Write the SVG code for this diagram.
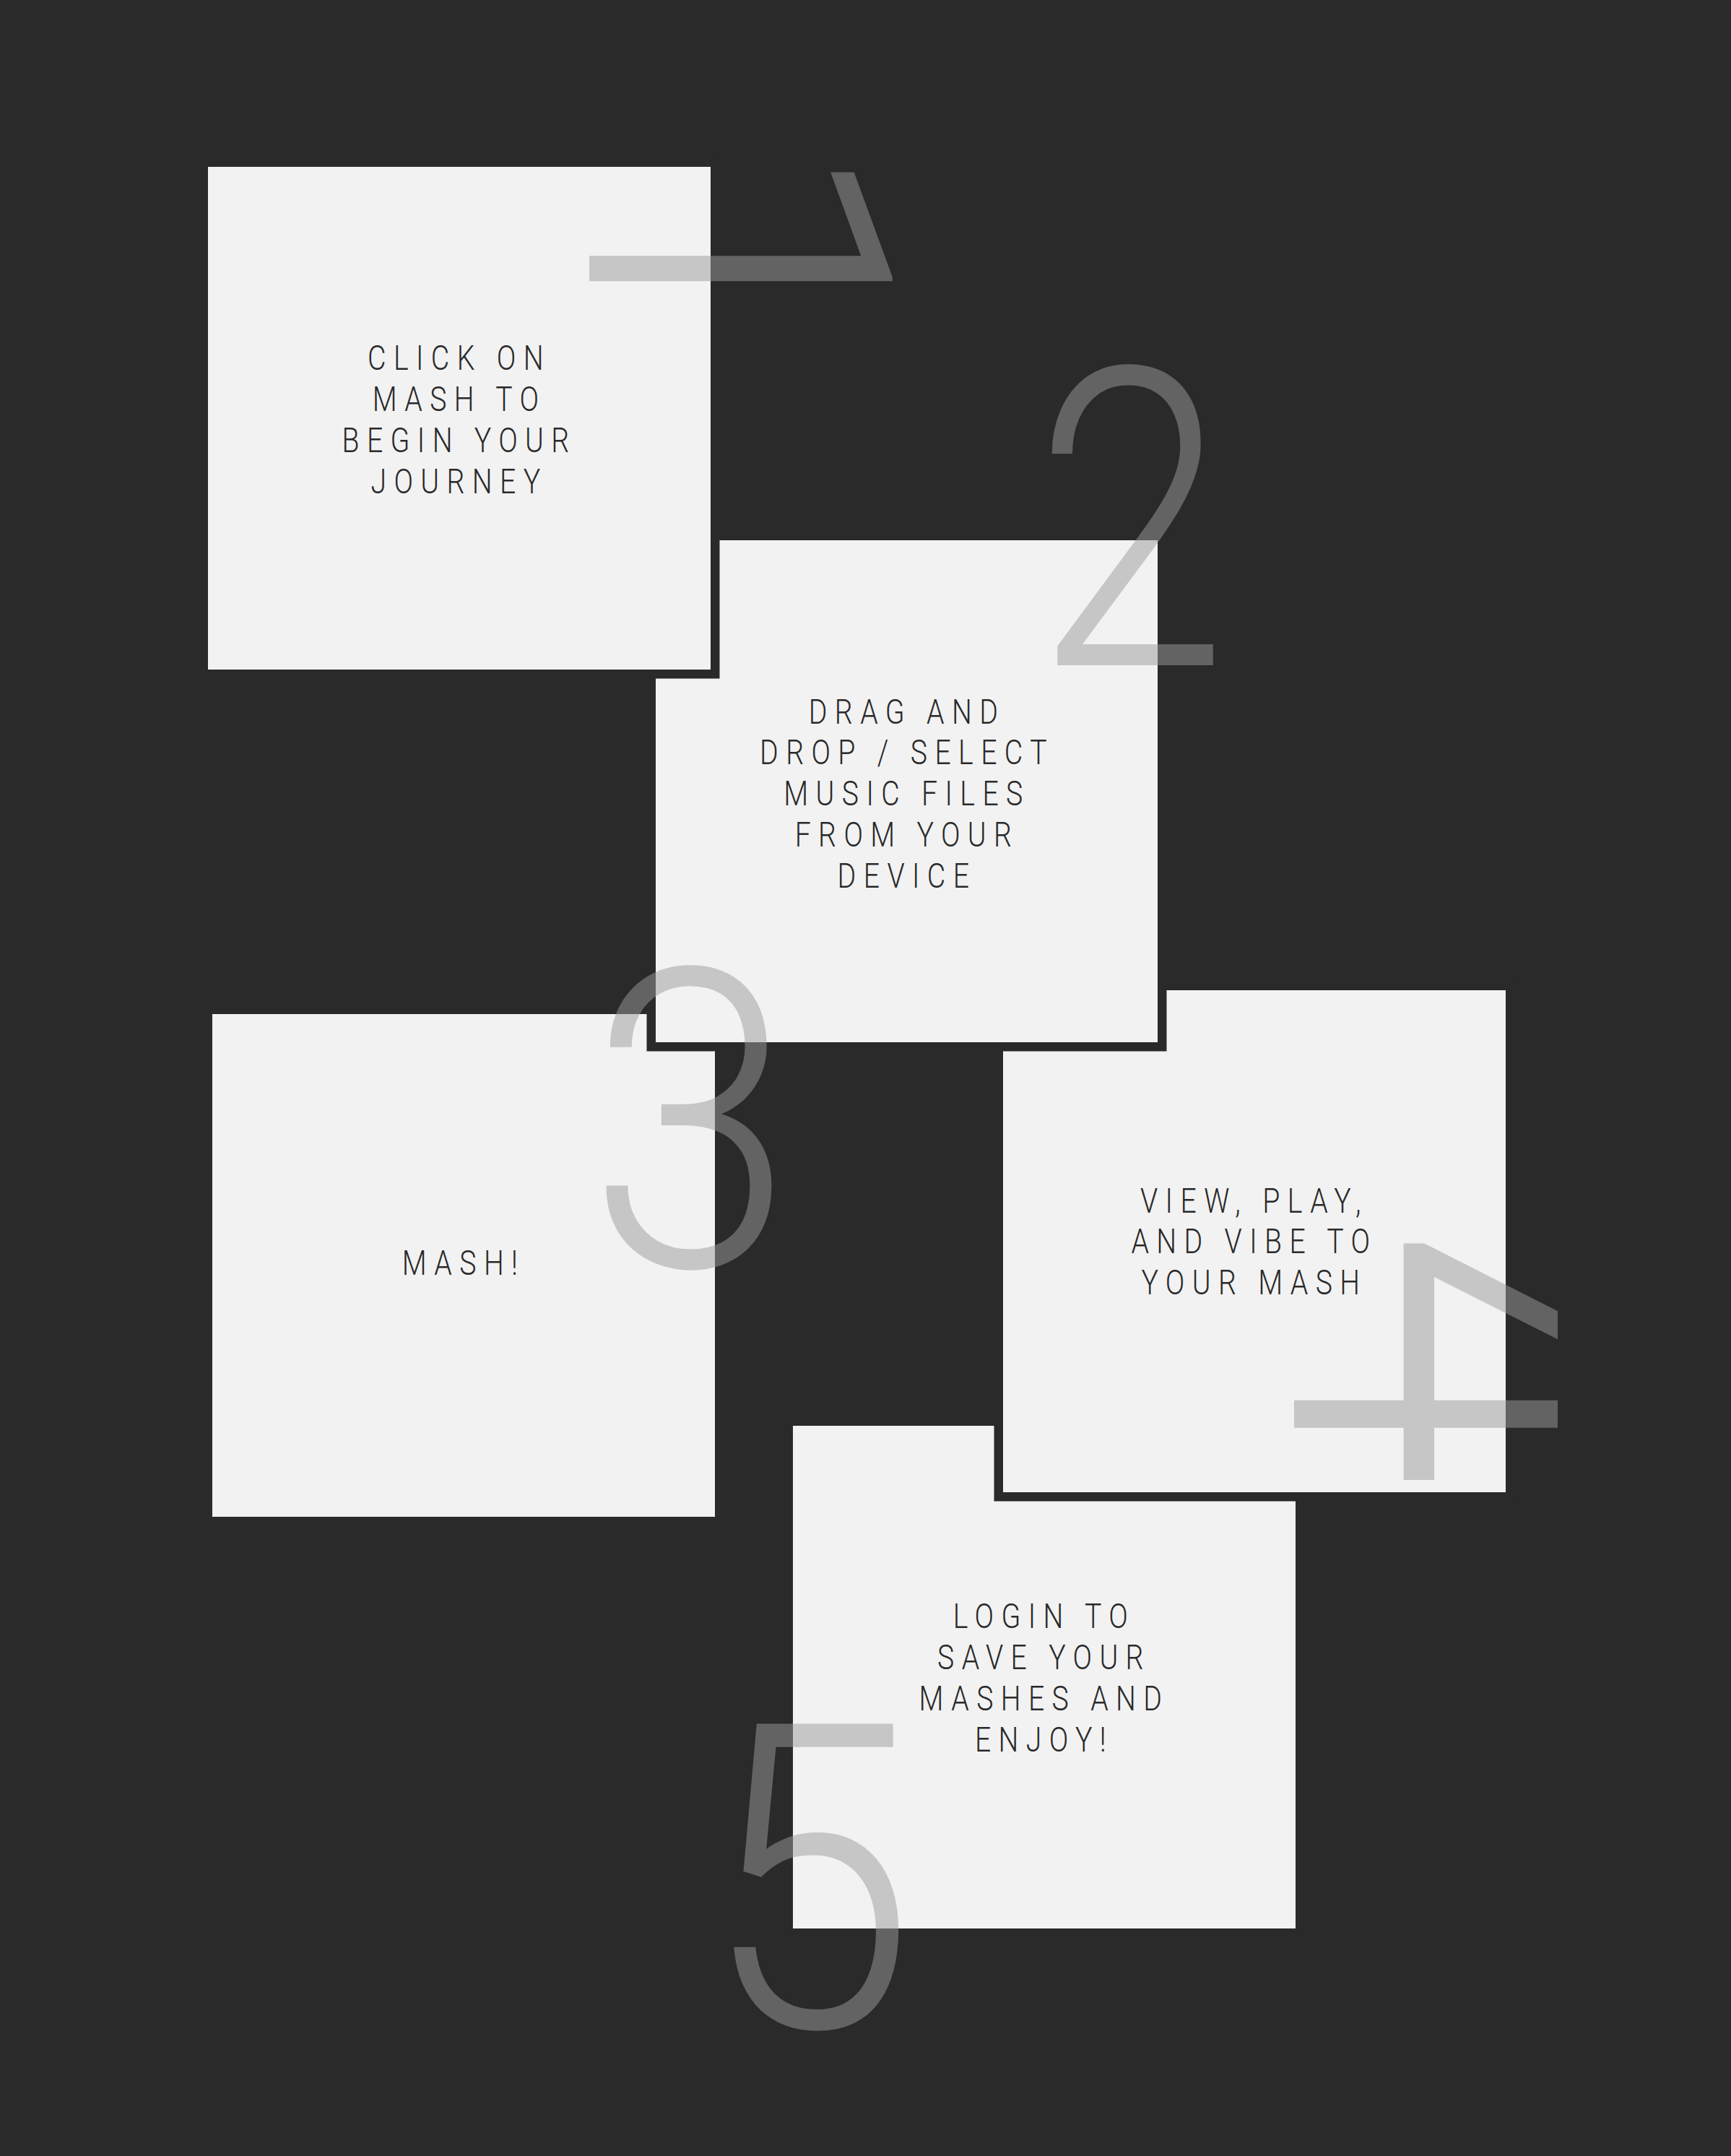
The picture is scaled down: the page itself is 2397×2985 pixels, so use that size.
<svg xmlns="http://www.w3.org/2000/svg" width="2397" height="2985" viewBox="0 0 2397 2985">
<defs>
<style>
.bg{fill:#2a2a2a}
.gap{fill:#2a2a2a}
.card{fill:#f2f2f2}
.label{font-family:Roboto,"DejaVu Sans Condensed","Liberation Sans",sans-serif;font-size:49px;letter-spacing:13px;fill:#2a2a2a;text-anchor:middle;font-weight:300}
.num{font-family:Roboto,"Liberation Sans",sans-serif;font-weight:300;font-size:590px;fill:#9a9a9a;fill-opacity:0.51;text-anchor:middle}
</style>
<clipPath id="clip4"><rect x="0" y="0" width="2157" height="2985"/></clipPath>
</defs>
<rect class="bg" x="0" y="0" width="2397" height="2985"/>
<g id="node-5">
<rect class="card" x="1098" y="1974" width="696" height="696"/>
<text class="label" transform="translate(1446,0) scale(0.8,1)"><tspan x="0" y="2254">LOGIN TO</tspan><tspan x="0" y="2311">SAVE YOUR</tspan><tspan x="0" y="2368">MASHES AND</tspan><tspan x="0" y="2425">ENJOY!</tspan></text>
</g>
<g id="node-4">
<rect class="gap" x="1376.5" y="1358.5" width="721" height="720"/>
<rect class="card" x="1389" y="1371" width="696" height="695"/>
<text class="label" transform="translate(1737,0) scale(0.8,1)"><tspan x="0" y="1679">VIEW, PLAY,</tspan><tspan x="0" y="1735">AND VIBE TO</tspan><tspan x="0" y="1792">YOUR MASH</tspan></text>
</g>
<g id="node-3">
<rect class="card" x="294" y="1404" width="696" height="696"/>
<text class="label" transform="translate(642,0) scale(0.8,1)"><tspan x="0" y="1765">MASH!</tspan></text>
</g>
<g id="node-2">
<rect class="gap" x="895.5" y="735.5" width="720" height="720"/>
<rect class="card" x="908" y="748" width="695" height="695"/>
<text class="label" transform="translate(1256,0) scale(0.8,1)"><tspan x="0" y="1002">DRAG AND</tspan><tspan x="0" y="1058">DROP / SELECT</tspan><tspan x="0" y="1115">MUSIC FILES</tspan><tspan x="0" y="1172">FROM YOUR</tspan><tspan x="0" y="1229">DEVICE</tspan></text>
</g>
<g id="node-1">
<rect class="gap" x="275.5" y="218.5" width="721" height="721"/>
<rect class="card" x="288" y="231" width="696" height="696"/>
<text class="label" transform="translate(636,0) scale(0.8,1)"><tspan x="0" y="512">CLICK ON</tspan><tspan x="0" y="569">MASH TO</tspan><tspan x="0" y="626">BEGIN YOUR</tspan><tspan x="0" y="683">JOURNEY</tspan></text>
</g>
<g id="step-numbers">
<text class="num" style="font-size:600px;text-anchor:start" transform="translate(816,186) rotate(90) scale(1,0.98)">1</text>
<text class="num" transform="translate(1566,921) scale(0.82,0.98)">2</text>
<text class="num" transform="translate(957,1753) scale(0.87,0.98)">3</text>
<g clip-path="url(#clip4)"><text class="num" style="font-size:650px;text-anchor:start" transform="translate(1792,1700) rotate(90) scale(1,1.3)">4</text></g>
<text class="num" transform="translate(1120,2806) scale(0.9,1)">5</text>
</g>
</svg>
